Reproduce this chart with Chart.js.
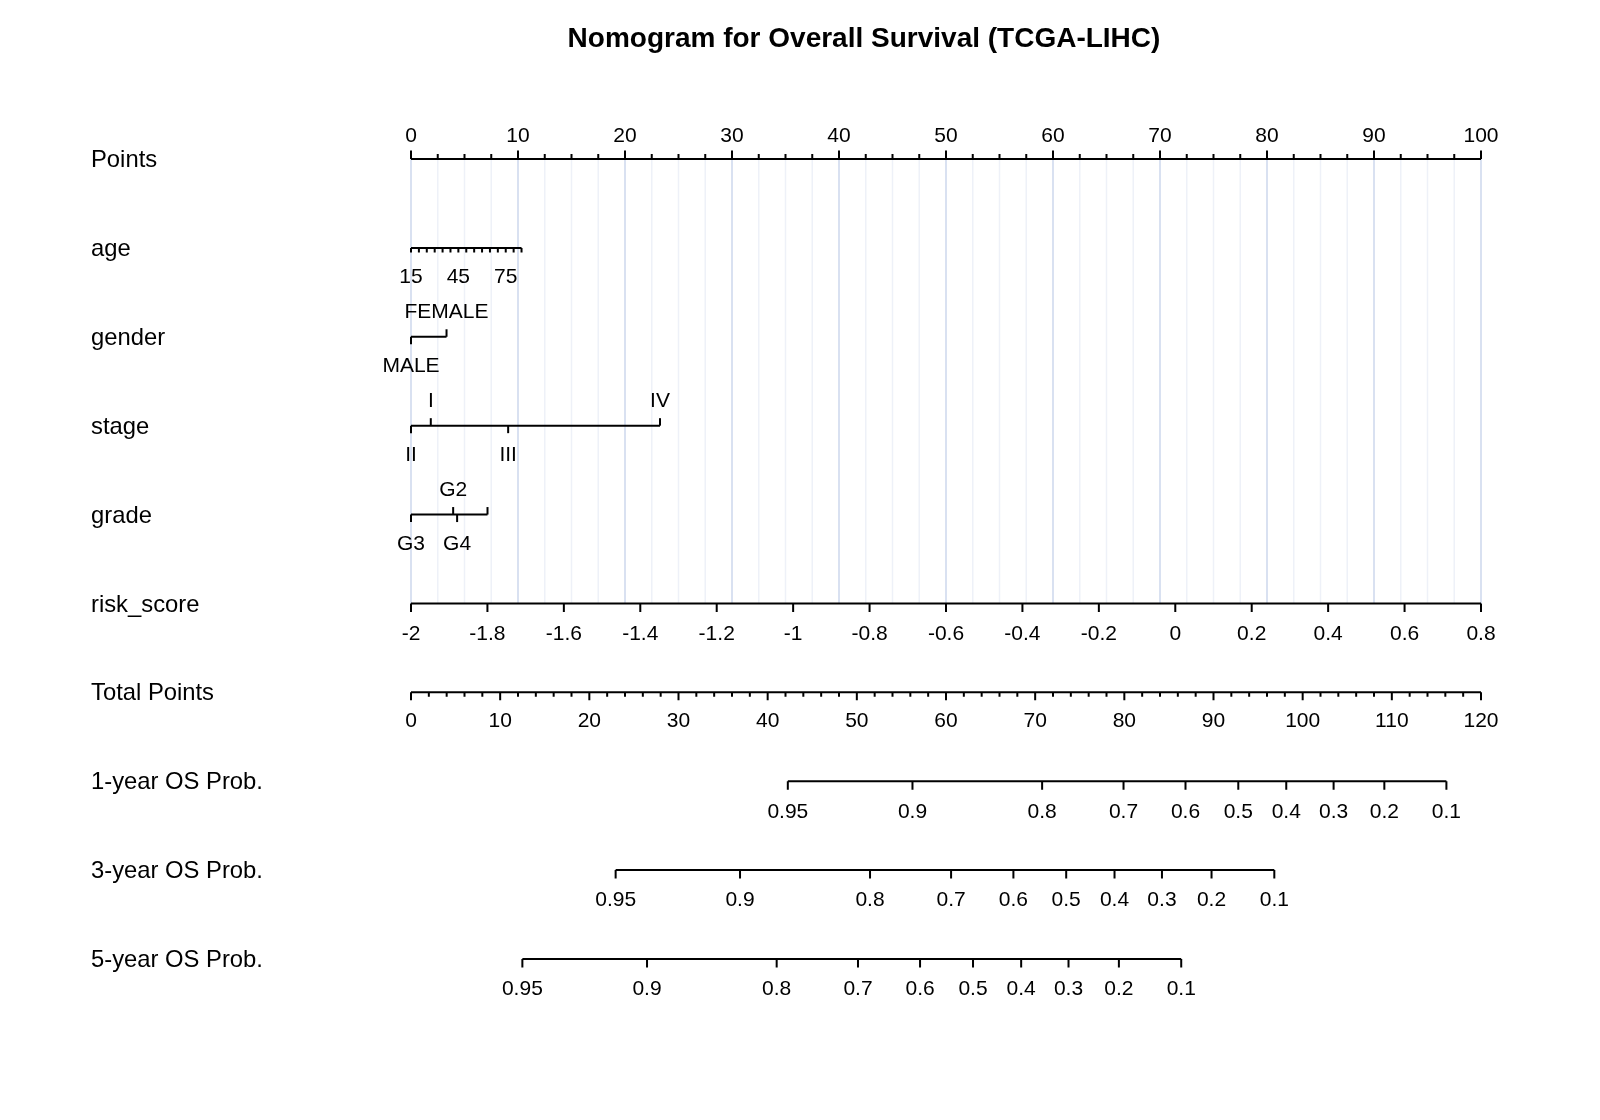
<!DOCTYPE html>
<html><head><meta charset="utf-8">
<script src="https://cdn.jsdelivr.net/npm/chart.js@4.4.1/dist/chart.umd.min.js"></script>
<style>html,body{margin:0;padding:0;background:#fff}canvas{display:block}</style>
</head><body>
<canvas id="c" width="1600" height="1120"></canvas>
<script>
// ---------------- DATA ----------------
const chartTitle = 'Nomogram for Overall Survival (TCGA-LIHC)';
const rowNames = ['Points', 'age', 'gender', 'stage', 'grade', 'risk_score',
                  'Total Points', '1-year OS Prob.', '3-year OS Prob.', '5-year OS Prob.'];

const pointsMax = 100;
const pointsLabels = [0, 10, 20, 30, 40, 50, 60, 70, 80, 90, 100];
const pointsMinorStep = 2.5;

const ageValues = [15, 20, 25, 30, 35, 40, 45, 50, 55, 60, 65, 70, 75, 80, 85];
const ageLabels = [15, 45, 75];
const ageRange = [15, 85];
const agePointsRange = [0, 10.33];

const genderLevels = ['MALE', 'FEMALE'];
const genderPoints = [0, 3.32];

const stageLevels = ['II', 'I', 'III', 'IV'];
const stagePoints = [0, 1.85, 9.08, 23.27];

const gradeLevels = ['G3', 'G2', 'G4', ''];
const gradePoints = [0, 3.94, 4.31, 7.15];

const riskValues = [-2, -1.8, -1.6, -1.4, -1.2, -1, -0.8, -0.6, -0.4, -0.2, 0, 0.2, 0.4, 0.6, 0.8];
const riskRange = [-2, 0.8];

const totalLabels = [0, 10, 20, 30, 40, 50, 60, 70, 80, 90, 100, 110, 120];
const totalMax = 120;
const totalMinorStep = 2;

const probLabels = ['0.95', '0.9', '0.8', '0.7', '0.6', '0.5', '0.4', '0.3', '0.2', '0.1'];
const os1yTotal = [42.26, 56.24, 70.78, 79.91, 86.86, 92.78, 98.16, 103.47, 109.16, 116.12];
const os3yTotal = [22.95, 36.90, 51.48, 60.57, 67.56, 73.48, 78.90, 84.22, 89.78, 96.82];
const os5yTotal = [12.49, 26.47, 41.01, 50.13, 57.09, 63.03, 68.43, 73.74, 79.39, 86.38];

// ---------------- MAPPINGS ----------------
const ageToPts = a => (a - ageRange[0]) / (ageRange[1] - ageRange[0]) * (agePointsRange[1] - agePointsRange[0]) + agePointsRange[0];
const riskToPts = r => (r - riskRange[0]) / (riskRange[1] - riskRange[0]) * pointsMax;
const totalToPts = t => t / totalMax * pointsMax;

const FONT = '"Liberation Sans", Arial, Helvetica, sans-serif';

function seg(row, p0, p1) {
  return {
    data: [{x: p0, y: row}, {x: p1, y: row}],
    showLine: true, borderColor: '#000', borderWidth: 2,
    pointRadius: 0, clip: false, borderCapStyle: 'butt'
  };
}
const datasets = [
  seg(0, 0, pointsMax),
  seg(1, ageToPts(ageRange[0]), ageToPts(ageRange[1])),
  seg(2, Math.min(...genderPoints), Math.max(...genderPoints)),
  seg(3, Math.min(...stagePoints), Math.max(...stagePoints)),
  seg(4, Math.min(...gradePoints), Math.max(...gradePoints)),
  seg(5, riskToPts(riskRange[0]), riskToPts(riskRange[1])),
  seg(6, 0, totalToPts(totalMax)),
  seg(7, totalToPts(os1yTotal[0]), totalToPts(os1yTotal[os1yTotal.length - 1])),
  seg(8, totalToPts(os3yTotal[0]), totalToPts(os3yTotal[os3yTotal.length - 1])),
  seg(9, totalToPts(os5yTotal[0]), totalToPts(os5yTotal[os5yTotal.length - 1]))
];

const nomoPlugin = {
  id: 'nomo',
  beforeDatasetsDraw(chart) {
    const ctx = chart.ctx, xs = chart.scales.x, ys = chart.scales.y;
    const yTop = ys.getPixelForValue(0), yBot = ys.getPixelForValue(5);
    ctx.save();
    for (let p = 0; p <= pointsMax + 1e-9; p += pointsMinorStep) {
      const major = Math.abs(p / 10 - Math.round(p / 10)) < 1e-9;
      const px = xs.getPixelForValue(p);
      ctx.strokeStyle = major ? '#d9e1f1' : '#eef1f8';
      ctx.lineWidth = major ? 2 : 1.5;
      ctx.beginPath(); ctx.moveTo(px, yTop); ctx.lineTo(px, yBot); ctx.stroke();
    }
    ctx.restore();
  },
  afterDatasetsDraw(chart) {
    const ctx = chart.ctx, xs = chart.scales.x, ys = chart.scales.y;
    const X = p => xs.getPixelForValue(p);
    const Y = r => ys.getPixelForValue(r);
    ctx.save();
    ctx.strokeStyle = '#000'; ctx.fillStyle = '#000'; ctx.lineWidth = 2; ctx.lineCap = 'butt';
    const ticks = (pts, row, len) => {
      const y = Y(row);
      ctx.beginPath();
      pts.forEach(p => { const px = X(p); ctx.moveTo(px, y); ctx.lineTo(px, y + len); });
      ctx.stroke();
    };
    const labels = (pts, texts, row, off, size) => {
      ctx.font = size + 'px ' + FONT;
      ctx.textAlign = 'center'; ctx.textBaseline = 'middle';
      pts.forEach((p, i) => { if (texts[i] !== '') ctx.fillText(String(texts[i]), X(p), Y(row) + off); });
    };
    const TS = 21;

    // Points axis (ticks up)
    const pMinor = [];
    for (let p = 0; p <= pointsMax + 1e-9; p += pointsMinorStep) if (!pointsLabels.includes(p)) pMinor.push(p);
    ticks(pointsLabels, 0, -8.5);
    ticks(pMinor, 0, -5);
    labels(pointsLabels, pointsLabels, 0, -23, TS);

    // age
    ticks(ageValues.map(ageToPts), 1, 4.5);
    labels(ageLabels.map(ageToPts), ageLabels, 1, 29, TS);

    // categorical rows: alternate down / up by order of points
    const cat = (levels, pts, row) => {
      const order = pts.map((p, i) => i).sort((a, b) => pts[a] - pts[b]);
      order.forEach((idx, k) => {
        const up = k % 2 === 1;
        ticks([pts[idx]], row, up ? -7.5 : 7.5);
        labels([pts[idx]], [levels[idx]], row, up ? -24.5 : 29.5, TS);
      });
    };
    cat(genderLevels, genderPoints, 2);
    cat(stageLevels, stagePoints, 3);
    cat(gradeLevels, gradePoints, 4);

    // risk score
    ticks(riskValues.map(riskToPts), 5, 8.5);
    labels(riskValues.map(riskToPts), riskValues.map(v => String(v)), 5, 30.5, TS);

    // total points
    const tMinor = [];
    for (let t = 0; t <= totalMax; t += totalMinorStep) if (!totalLabels.includes(t)) tMinor.push(t);
    ticks(totalLabels.map(totalToPts), 6, 8);
    ticks(tMinor.map(totalToPts), 6, 4.5);
    labels(totalLabels.map(totalToPts), totalLabels, 6, 29, TS);

    // probability rows
    [[os1yTotal, 7], [os3yTotal, 8], [os5yTotal, 9]].forEach(([arr, row]) => {
      const pts = arr.map(totalToPts);
      ticks(pts, row, 8.5);
      labels(pts, probLabels, row, 30.5, TS);
    });

    // row names
    ctx.font = '23.8px ' + FONT;
    ctx.textAlign = 'left'; ctx.textBaseline = 'middle';
    rowNames.forEach((n, i) => ctx.fillText(n, 91, Y(i) + 1.5));

    // title
    ctx.font = 'bold 28px ' + FONT;
    ctx.textAlign = 'center'; ctx.textBaseline = 'middle';
    ctx.fillText(chartTitle, 864, 39.5);
    ctx.restore();
  }
};

new Chart(document.getElementById('c'), {
  type: 'scatter',
  data: {datasets},
  options: {
    responsive: false, animation: false, devicePixelRatio: 1,
    layout: {padding: {left: 411, right: 119, top: 159, bottom: 161}},
    scales: {
      x: {type: 'linear', min: 0, max: pointsMax, display: false},
      y: {type: 'linear', min: 0, max: 9, reverse: true, display: false}
    },
    plugins: {legend: {display: false}, tooltip: {enabled: false}, title: {display: false}},
    events: []
  },
  plugins: [nomoPlugin]
});
</script>
</body></html>
